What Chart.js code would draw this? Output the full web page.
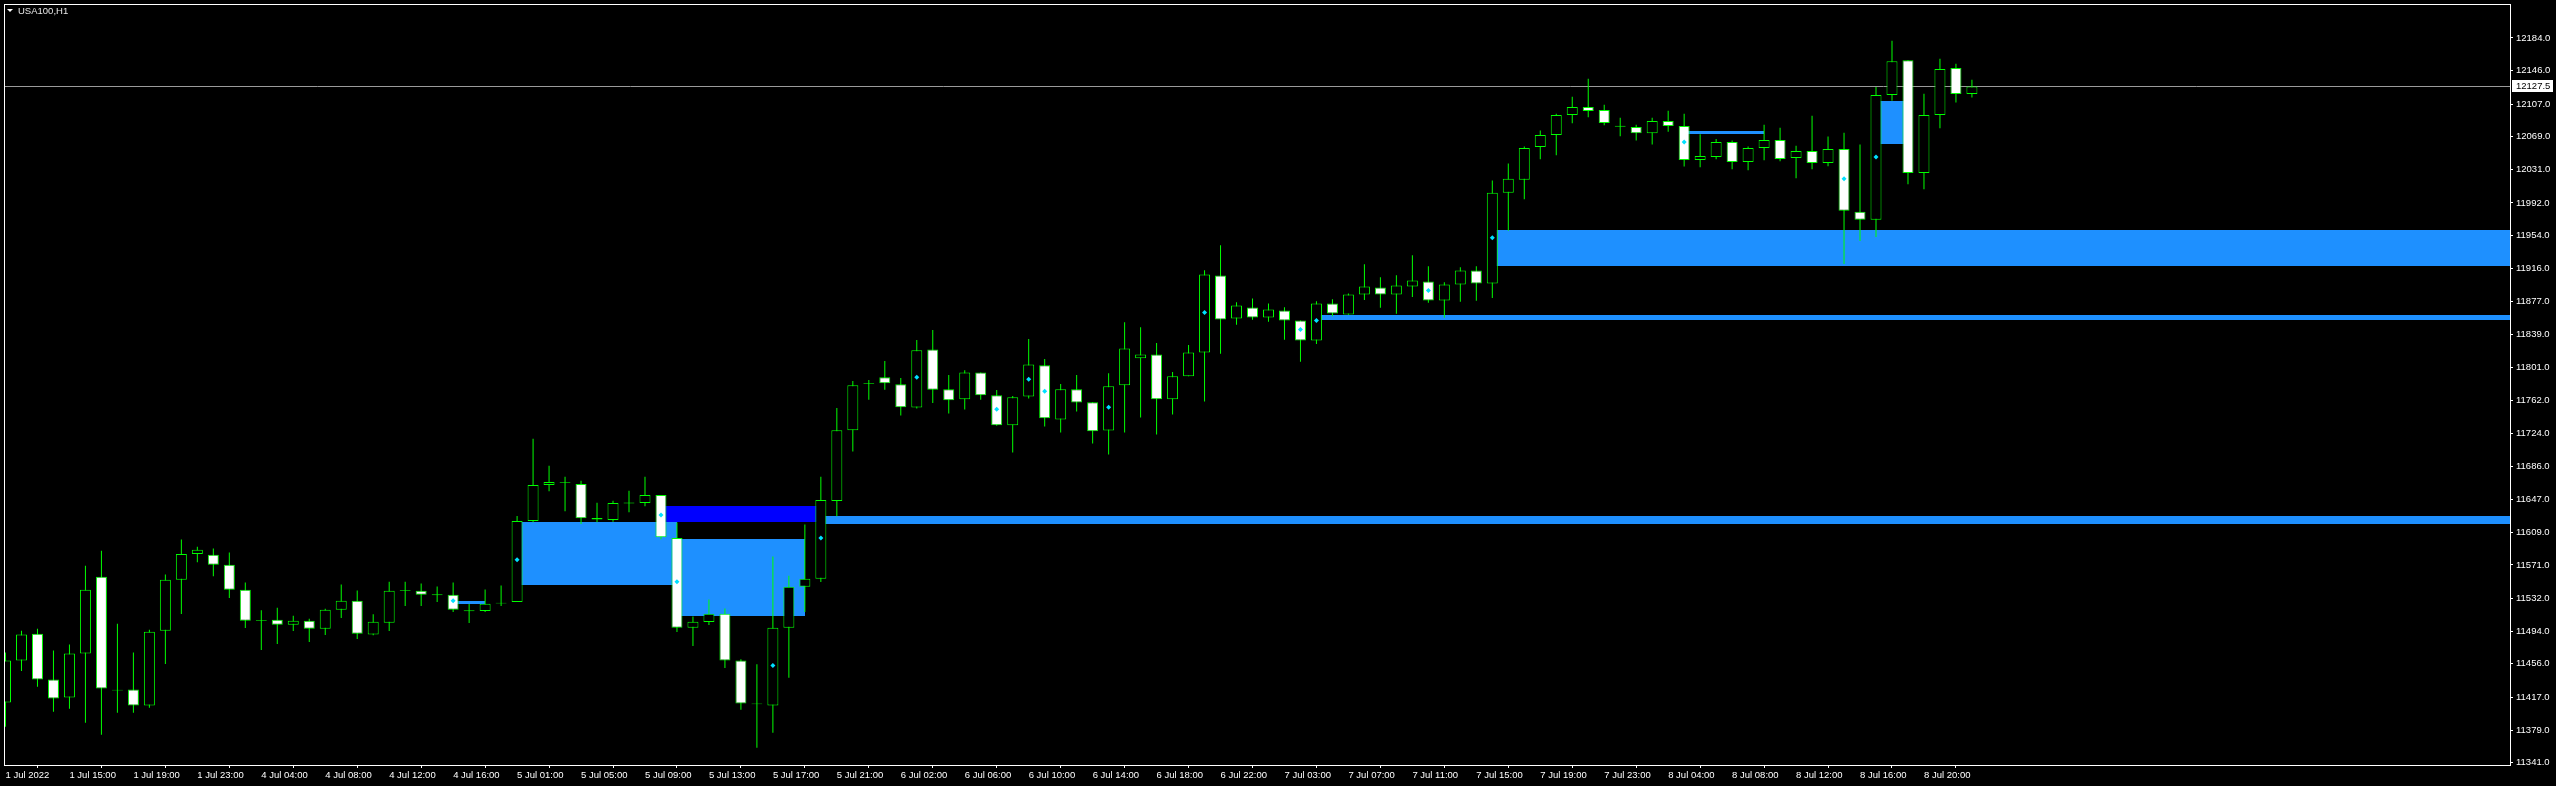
<!DOCTYPE html>
<html>
<head>
<meta charset="utf-8">
<title>USA100,H1</title>
<script src="https://cdn.jsdelivr.net/npm/chart.js@4.4.1/dist/chart.umd.min.js"></script>
<style>
  html, body { margin: 0; padding: 0; background: #000; }
  canvas { display: block; }
</style>
</head>
<body>
<canvas id="chart" width="2556" height="786"></canvas>
<script>
// hourly candles, 1 Jul 11:00 .. 8 Jul 23:00
const opens = [
  11411.1, 11459.8, 11491.1, 11437.8, 11416.9, 11467.9, 11557.2, 11426.0, 11426.2, 11407.6,
  11494.6, 11553.8, 11583.9, 11582.8, 11571.2, 11542.2, 11506.7, 11507.4, 11501.6, 11506.2,
  11496.9, 11519.0, 11529.4, 11490.0, 11503.9, 11540.9, 11541.0, 11536.9, 11536.4, 11518.3,
  11517.4, 11526.2, 11527.9, 11622.2, 11664.0, 11666.6, 11665.1, 11625.7, 11623.4, 11642.6,
  11643.1, 11652.4, 11602.5, 11498.1, 11504.7, 11514.3, 11459.8, 11410.0, 11407.6, 11498.1,
  11545.6, 11554.9, 11645.4, 11727.8, 11781.4, 11789.2, 11781.1, 11754.1, 11821.7, 11775.3,
  11763.7, 11795.0, 11768.4, 11733.6, 11766.8, 11803.2, 11740.1, 11775.3, 11760.2, 11727.4,
  11780.0, 11811.3, 11815.9, 11763.7, 11790.4, 11818.2, 11907.6, 11857.7, 11870.4, 11858.8,
  11867.0, 11855.4, 11832.2, 11875.1, 11862.3, 11885.5, 11893.6, 11885.5, 11894.8, 11900.6,
  11878.6, 11897.1, 11913.4, 11898.3, 12003.9, 12018.9, 12057.2, 12071.1, 12094.3, 12103.6,
  12100.1, 12081.7, 12080.4, 12073.1, 12087.4, 12081.6, 12042.1, 12045.6, 12063.0, 12039.8,
  12056.0, 12065.3, 12044.4, 12052.6, 12038.6, 12054.9, 11981.8, 11972.5, 12117.5, 12158.1,
  12027.0, 12094.3, 12148.9, 12118.7
];
const highs = [
  11469.1, 11494.6, 11496.9, 11471.4, 11478.4, 11570.0, 11587.4, 11502.7, 11469.1, 11495.8,
  11560.0, 11600.5, 11592.1, 11590.1, 11585.5, 11550.7, 11518.2, 11521.3, 11512.0, 11508.5,
  11520.1, 11548.3, 11541.4, 11513.6, 11551.4, 11551.4, 11549.5, 11546.0, 11550.7, 11525.5,
  11542.6, 11547.2, 11628.0, 11717.7, 11686.4, 11673.6, 11669.0, 11643.5, 11645.8, 11657.4,
  11673.6, 11652.4, 11620.3, 11511.2, 11530.9, 11520.5, 11461.3, 11455.5, 11580.8, 11558.4,
  11618.0, 11673.6, 11753.7, 11785.0, 11786.2, 11808.2, 11788.5, 11832.6, 11844.2, 11792.0,
  11797.4, 11795.0, 11774.6, 11767.6, 11833.7, 11810.5, 11781.5, 11792.0, 11760.2, 11793.9,
  11853.4, 11847.6, 11829.1, 11795.4, 11826.8, 11913.8, 11942.8, 11876.6, 11880.9, 11875.1,
  11870.8, 11855.4, 11877.8, 11880.1, 11886.7, 11920.7, 11905.6, 11908.0, 11931.1, 11918.4,
  11899.8, 11917.2, 11918.4, 12018.2, 12037.9, 12057.6, 12076.2, 12095.9, 12115.6, 12136.5,
  12106.3, 12091.2, 12083.1, 12091.2, 12099.4, 12095.9, 12071.9, 12066.5, 12064.6, 12057.6,
  12083.1, 12079.6, 12058.7, 12093.6, 12069.2, 12073.8, 12059.9, 12126.8, 12180.6, 12158.1,
  12119.1, 12159.7, 12153.9, 12135.3
];
const lows = [
  11382.9, 11447.8, 11429.3, 11400.3, 11403.7, 11387.5, 11373.6, 11399.1, 11399.1, 11404.9,
  11455.9, 11514.0, 11574.3, 11558.0, 11532.5, 11497.7, 11472.2, 11479.1, 11494.2, 11481.5,
  11489.6, 11509.3, 11484.9, 11489.2, 11494.2, 11523.2, 11523.2, 11527.9, 11516.3, 11503.5,
  11516.3, 11523.2, 11527.9, 11620.7, 11656.6, 11633.4, 11618.7, 11620.7, 11621.4, 11632.3,
  11639.2, 11600.9, 11493.1, 11476.8, 11501.2, 11451.3, 11402.6, 11358.5, 11375.9, 11439.7,
  11516.2, 11551.1, 11627.6, 11703.0, 11763.3, 11774.9, 11744.8, 11752.9, 11759.5, 11747.1,
  11751.7, 11763.3, 11732.8, 11701.9, 11764.5, 11732.0, 11725.1, 11749.4, 11712.3, 11699.5,
  11725.1, 11742.5, 11722.7, 11745.9, 11790.4, 11761.0, 11816.7, 11850.3, 11856.1, 11853.8,
  11832.9, 11807.4, 11828.0, 11860.4, 11862.0, 11879.3, 11870.1, 11863.1, 11882.8, 11875.9,
  11858.4, 11877.0, 11878.2, 11881.6, 11959.8, 11996.5, 12042.9, 12047.5, 12084.7, 12091.6,
  12082.3, 12069.6, 12064.6, 12059.9, 12075.0, 12034.4, 12033.6, 12042.9, 12031.3, 12030.1,
  12041.7, 12040.6, 12020.9, 12031.3, 12034.8, 11921.1, 11947.8, 11952.4, 12111.0, 12013.9,
  12008.1, 12078.9, 12109.0, 12114.8
];
const closes = [
  11459.8, 11490.0, 11437.8, 11415.7, 11467.9, 11542.2, 11427.3, 11425.0, 11407.6, 11493.4,
  11553.8, 11583.9, 11588.6, 11571.2, 11542.2, 11506.2, 11505.7, 11501.6, 11506.2, 11496.9,
  11518.9, 11529.4, 11491.1, 11505.0, 11541.0, 11541.9, 11536.4, 11535.9, 11519.0, 11517.3,
  11525.9, 11527.2, 11622.2, 11664.0, 11667.4, 11667.6, 11625.3, 11623.8, 11643.1, 11643.6,
  11652.4, 11603.3, 11498.1, 11505.0, 11514.3, 11459.8, 11409.9, 11409.0, 11498.1, 11545.6,
  11554.9, 11646.6, 11727.8, 11780.0, 11782.4, 11782.3, 11754.4, 11820.6, 11774.9, 11762.6,
  11795.0, 11768.4, 11733.6, 11766.0, 11804.3, 11741.7, 11775.3, 11759.9, 11726.6, 11778.8,
  11822.9, 11815.9, 11763.7, 11790.4, 11818.2, 11908.7, 11856.5, 11872.8, 11858.8, 11868.1,
  11855.4, 11832.2, 11875.1, 11863.5, 11885.5, 11894.8, 11885.5, 11896.0, 11901.8, 11878.6,
  11897.1, 11913.4, 11898.3, 12003.9, 12020.1, 12056.0, 12071.1, 12094.3, 12103.6, 12099.0,
  12085.0, 12080.7, 12073.1, 12087.4, 12081.6, 12042.1, 12046.8, 12063.0, 12039.8, 12056.0,
  12065.3, 12043.3, 12052.6, 12038.6, 12054.9, 11983.0, 11972.5, 12117.5, 12157.0, 12027.0,
  12094.3, 12147.7, 12118.7, 12127.5
];

// time axis: bar index of each label
const timeTickIdx = [0, 4, 8, 12, 16, 20, 24, 28, 32, 36, 40, 44, 48, 52, 56, 60,
  64, 68, 72, 76, 80, 84, 88, 92, 96, 100, 104, 108, 112, 116, 120];
const timeLabels = ["1 Jul 2022", "1 Jul 15:00", "1 Jul 19:00", "1 Jul 23:00",
  "4 Jul 04:00", "4 Jul 08:00", "4 Jul 12:00", "4 Jul 16:00",
  "5 Jul 01:00", "5 Jul 05:00", "5 Jul 09:00", "5 Jul 13:00", "5 Jul 17:00", "5 Jul 21:00",
  "6 Jul 02:00", "6 Jul 06:00", "6 Jul 10:00", "6 Jul 14:00", "6 Jul 18:00", "6 Jul 22:00",
  "7 Jul 03:00", "7 Jul 07:00", "7 Jul 11:00", "7 Jul 15:00", "7 Jul 19:00", "7 Jul 23:00",
  "8 Jul 04:00", "8 Jul 08:00", "8 Jul 12:00", "8 Jul 16:00", "8 Jul 20:00"];

// price scale labels
const priceTicks = [11341, 11379, 11417, 11456, 11494, 11532, 11571, 11609, 11647, 11686,
  11724, 11762, 11801, 11839, 11877, 11916, 11954, 11992, 12031, 12069, 12107, 12146, 12184];
const bidPrice = 12127.5;

// zones (order blocks). end = null -> runs to the right edge
const zoneStart = [32, 42, 41, 51, 28, 82, 93, 105, 117];
const zoneEnd   = [42, 50, 51, null, 30, null, null, 110, 119];
const zoneLow   = [11547.2, 11511.5, 11620.6, 11618.3, 11525.5, 11856.1, 11918.7, 12071.8, 12060.2];
const zoneHigh  = [11621.4, 11601.7, 11640.0, 11628.4, 11528.6, 11861.5, 11960.1, 12076.1, 12110.9];

// small markers on some candles
const markIdx   = [28, 32, 41, 42, 48, 51, 57, 62, 64, 65, 69, 75, 81, 82, 89, 93, 105, 115, 117];
const markPrice = [11529.4, 11577.0, 11629.2, 11551.5, 11454.0, 11602.5, 11789.3, 11752.1, 11786.9,
  11773.0, 11754.5, 11864.7, 11844.9, 11855.4, 11890.2, 11951.7, 12063.0, 12020.1, 12045.6];

const LIME = "#00ff00";
const ZONE_COLOR = "#1e90ff";
const ZONE_COLOR_DARK = "#0000ff";
const FONT = { family: "'Liberation Sans', Arial, sans-serif", size: 9.5 };

const wicks = opens.map((o, i) => ({ x: i, y: [lows[i], highs[i]] }));
const bodies = opens.map((o, i) => ({ x: i, y: [o, closes[i]] }));
const bodyFill = opens.map((o, i) => (closes[i] >= o ? "#000000" : "#ffffff"));
const marks = markIdx.map((v, i) => ({ x: v, y: markPrice[i] }));

/* zones behind the candles */
const zonePlugin = {
  id: "zones",
  beforeDatasetsDraw(chart) {
    const { ctx, chartArea, scales } = chart;
    ctx.save();
    ctx.beginPath();
    ctx.rect(chartArea.left, chartArea.top, chartArea.right - chartArea.left, chartArea.bottom - chartArea.top);
    ctx.clip();
    // current price line
    const by = Math.round(scales.y.getPixelForValue(bidPrice)) + 0.5;
    ctx.strokeStyle = "#9a9a9a";
    ctx.lineWidth = 1;
    ctx.beginPath();
    ctx.moveTo(chartArea.left, by);
    ctx.lineTo(chartArea.right, by);
    ctx.stroke();
    for (let i = 0; i < zoneStart.length; i++) {
      const x1 = Math.round(scales.x.getPixelForValue(zoneStart[i]));
      const x2 = zoneEnd[i] === null ? chartArea.right : Math.round(scales.x.getPixelForValue(zoneEnd[i]));
      const y1 = Math.round(scales.y.getPixelForValue(zoneHigh[i]));
      const y2 = Math.round(scales.y.getPixelForValue(zoneLow[i]));
      ctx.fillStyle = i === 2 ? ZONE_COLOR_DARK : ZONE_COLOR;
      ctx.fillRect(x1, y1, x2 - x1, y2 - y1);
    }
    ctx.restore();
  },
  afterDraw(chart) {
    const { ctx, chartArea, scales } = chart;
    ctx.save();
    // frame
    ctx.strokeStyle = "#ffffff";
    ctx.lineWidth = 1;
    ctx.strokeRect(chartArea.left + 0.5, chartArea.top + 0.5,
      chartArea.right - chartArea.left, chartArea.bottom - chartArea.top);
    // symbol name
    ctx.fillStyle = "#ffffff";
    ctx.beginPath();
    ctx.moveTo(7, 9);
    ctx.lineTo(13, 9);
    ctx.lineTo(10, 12);
    ctx.closePath();
    ctx.fill();
    ctx.fillStyle = "#e8e8e8";
    ctx.font = "9.5px 'Liberation Sans', Arial, sans-serif";
    ctx.textBaseline = "middle";
    ctx.textAlign = "left";
    ctx.fillText("USA100,H1", 18, 11);
    // bid label on the price scale
    const by = Math.round(scales.y.getPixelForValue(bidPrice));
    ctx.fillStyle = "#ffffff";
    ctx.fillRect(chartArea.right + 2, by - 6, 41, 12);
    ctx.fillStyle = "#000000";
    ctx.fillText(bidPrice.toFixed(1), chartArea.right + 6, by + 0.5);
    ctx.restore();
  }
};

Chart.defaults.font = FONT;
Chart.defaults.color = "#ffffff";

new Chart(document.getElementById("chart"), {
  type: "bar",
  data: {
    datasets: [
      {
        type: "scatter",
        data: marks,
        pointStyle: "rectRot",
        pointRadius: 2.5,
        backgroundColor: "#00e0ff",
        borderWidth: 0,
        order: 0
      },
      {
        data: bodies,
        backgroundColor: bodyFill,
        borderColor: LIME,
        borderWidth: 1,
        borderSkipped: false,
        barThickness: 11,
        grouped: false,
        inflateAmount: 0,
        order: 1
      },
      {
        data: wicks,
        backgroundColor: LIME,
        borderWidth: 0,
        barThickness: 1,
        grouped: false,
        inflateAmount: 0,
        order: 2
      }
    ]
  },
  options: {
    responsive: false,
    animation: false,
    devicePixelRatio: 1,
    layout: { padding: { left: 2, top: 2, right: 0, bottom: 0 } },
    plugins: { legend: { display: false }, tooltip: { enabled: false } },
    scales: {
      x: {
        type: "linear",
        offset: false,
        min: -0.09375,
        max: 156.65625,
        afterBuildTicks: (axis) => { axis.ticks = timeTickIdx.map((v) => ({ value: v })); },
        afterFit: (axis) => {
          axis.height = 21;
          axis.paddingLeft = 0;
          axis.paddingRight = 0;
        },
        grid: { drawOnChartArea: false, color: "#ffffff", tickLength: 3 },
        border: { display: false },
        ticks: {
          autoSkip: false,
          maxRotation: 0,
          align: "start",
          padding: 2,
          color: "#ffffff",
          callback: (v) => timeLabels[timeTickIdx.indexOf(v)]
        }
      },
      y: {
        position: "right",
        min: 11338.36,
        max: 12223.44,
        afterBuildTicks: (axis) => { axis.ticks = priceTicks.map((v) => ({ value: v })); },
        afterFit: (axis) => {
          axis.width = 46;
          axis.paddingTop = 0;
          axis.paddingBottom = 0;
        },
        grid: { drawOnChartArea: false, color: "#ffffff", tickLength: 3 },
        border: { display: false },
        ticks: {
          padding: 3,
          color: "#ffffff",
          callback: (v) => v.toFixed(1)
        }
      }
    }
  },
  plugins: [zonePlugin]
});
</script>
</body>
</html>
